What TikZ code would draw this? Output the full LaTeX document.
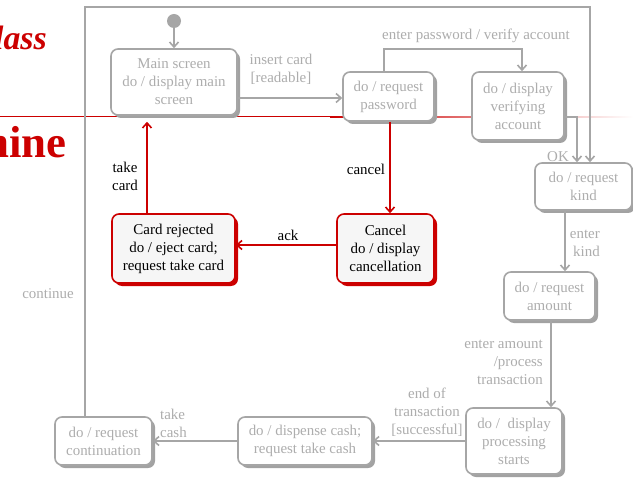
\documentclass[tikz,border=0pt]{standalone}
\usepackage{fontspec}
\setmainfont{Liberation Serif}
\usetikzlibrary{arrows.meta,shadows}

\definecolor{stgray}{HTML}{A6A6A6}
\definecolor{sttext}{HTML}{ADADAD}
\definecolor{stshadow}{HTML}{A2A2A2}
\definecolor{hired}{HTML}{CC0000}
\definecolor{hifill}{HTML}{F6F6F6}

\tikzset{
  lbl/.style={font=\fontsize{15}{18}\selectfont, inner sep=0pt, align=center,
    execute at begin node={\rule{0pt}{14.3bp}}},
  glbl/.style={lbl, text=sttext},
  rlbl/.style={lbl, text=black},
  boxbase/.style={lbl, line width=1.6bp, rounded corners=7bp},
  state/.style={boxbase, draw=stgray, fill=white, text=sttext,
    drop shadow={shadow xshift=3bp, shadow yshift=-3bp, fill=stshadow, opacity=1}},
  hstate/.style={boxbase, draw=hired, fill=hifill, text=black,
    drop shadow={shadow xshift=3bp, shadow yshift=-3bp, fill=hired, opacity=1}},
  gconn/.style={draw=stgray, line width=1.6bp, -{Straight Barb[length=5bp,width=9bp]}},
  rconn/.style={draw=hired, line width=1.6bp, -{Straight Barb[length=5bp,width=9bp]}},
  boxsize/.style 2 args={minimum width=#1bp, minimum height=#2bp}
}

\begin{document}
\begin{tikzpicture}[x=1bp, y=-1bp]
  \useasboundingbox (0,0) rectangle (633,479);
  \fill[white] (0,0) rectangle (633,479);
  \clip (0,0) rectangle (633,479);

  % slide heading fragments and rule
  \node[anchor=base east, inner sep=0pt, text=hired,
        font=\fontsize{34}{34}\selectfont\bfseries\itshape] (ttlA) at (47,50) {lass};
  \node[anchor=base east, inner sep=0pt, text=hired,
        font=\fontsize{45}{45}\selectfont\bfseries] (ttlB) at (67,158) {hine};
  \draw[hired, line width=1bp] (0,117) -- (330,117);
  \shade[left color=hired, right color=white] (330,116.5) rectangle (633,117.5);

  % initial pseudo-state
  \coordinate (initc) at (174,21);
  \fill[stgray] (initc) circle (7);

  % states
  \node[state, boxsize={126}{66}] (main)   at (174,82)     {Main screen\\do / display main\\screen};
  \node[state, boxsize={91}{49}]  (pass)   at (388.5,96.5) {do / request\\password};
  \node[state, boxsize={92}{68}]  (verify) at (518,106)    {do / display\\verifying\\account};
  \node[state, boxsize={97}{47}]  (kind)   at (583.5,186.5){do / request\\kind};
  \node[state, boxsize={91}{48}]  (amount) at (549.5,296)  {do / request\\amount};
  \node[state, boxsize={96}{66}]  (proc)   at (514,441)    {do /\ \ display\\processing\\starts};
  \node[state, boxsize={134}{48}] (disp)   at (305,441)    {do / dispense cash;\\request take cash};
  \node[state, boxsize={97}{48}]  (cont)   at (103.5,441)  {do / request\\continuation};
  \node[hstate, boxsize={97}{69}] (cancel) at (385.5,248.5){Cancel\\do / display\\cancellation};
  \node[hstate, boxsize={123}{69}](rej)    at (173.5,248.5){Card rejected\\do / eject card;\\request take card};

  % transitions
  \draw[gconn] ([yshift=-7bp]initc) -- (main.north);
  \draw[gconn] ([yshift=-16bp]main.east) coordinate (mp) -- (mp -| pass.west);
  \draw[gconn] ([xshift=-4.5bp]pass.north) -- ++(0,-22) -| ([xshift=4bp]verify.north);
  \draw[gconn] ([yshift=-11bp]verify.east) -| ([xshift=-6.5bp]kind.north);
  \draw[gconn] ([xshift=-18.5bp]cont.north) -- ++(0,-409) -| ([xshift=6.5bp]kind.north);
  \draw[gconn] ([xshift=-18.5bp]kind.south) coordinate (ks) -- (ks |- amount.north);
  \draw[gconn] ([xshift=1.5bp]amount.south) coordinate (as) -- (as |- proc.north);
  \draw[gconn] (proc.west) -- (disp.east);
  \draw[gconn] (disp.west) -- (cont.east);
  \draw[rconn] ([xshift=1.5bp]pass.south) coordinate (ps) -- (ps |- cancel.north);
  \draw[rconn] ([yshift=3.5bp]cancel.west) coordinate (cw) -- (cw -| rej.east);
  \draw[rconn, shorten >=6bp] ([xshift=-26.5bp]rej.north) coordinate (rn) -- (rn |- main.south);

  % transition labels
  \node[glbl] (lInsert) at (281,69.5) {insert card\\{}[readable]};
  \node[glbl] (lPw)     at (476,34)   {enter password / verify account};
  \node[glbl] (lOK)     at (558,154)  {OK};
  \node[glbl, anchor=east, align=right] (lKind) at (600,243.5) {enter\\kind};
  \node[glbl, anchor=east, align=right] (lAmt)  at (543,362)   {enter amount\\/process\\transaction};
  \node[glbl] (lEnd)    at (427,412)  {end of\\transaction\\{}[successful]};
  \node[glbl, anchor=west, align=left] (lTake) at (160,423) {take\\cash};
  \node[glbl] (lCont)   at (48,291)   {continue};
  \node[rlbl] (lCancel) at (366,167)  {cancel};
  \node[rlbl] (lAck)    at (288,233)  {ack};
  \node[rlbl] (lTakeCard) at (125,176) {take\\card};
\end{tikzpicture}
\end{document}
